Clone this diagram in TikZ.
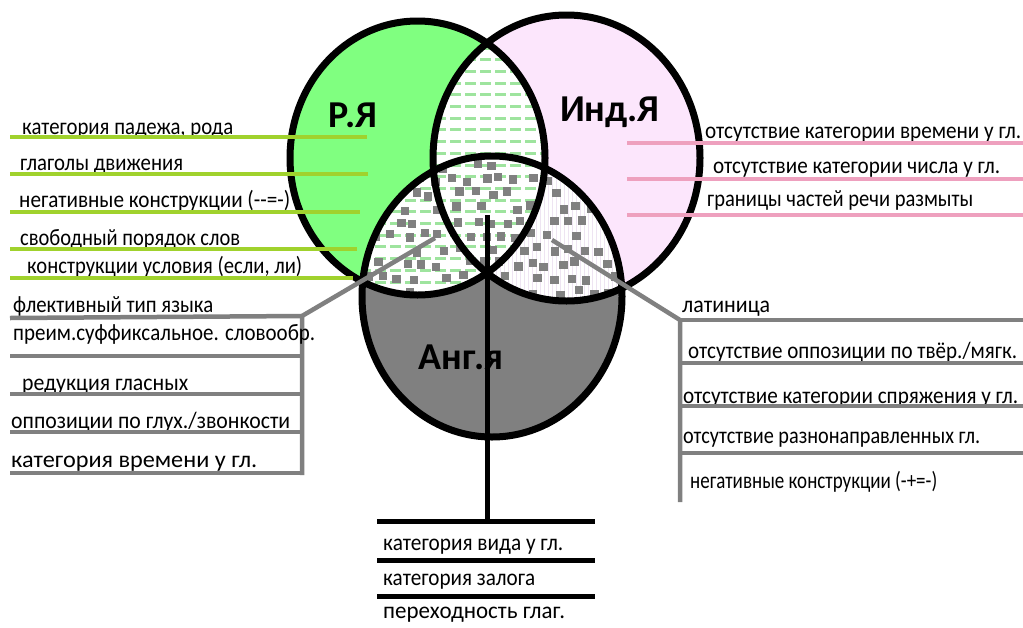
\documentclass[tikz,border=0pt]{standalone}
\usepackage{fontspec}
\usepackage{graphicx}
\setmainfont{Carlito}
\definecolor{rgreen}{RGB}{128,255,128}
\definecolor{ipink}{RGB}{252,230,252}
\definecolor{agrey}{RGB}{128,128,128}
\definecolor{dashgreen}{RGB}{158,228,158}
\definecolor{stripe}{RGB}{238,228,242}
\definecolor{lgreen}{RGB}{160,210,45}
\definecolor{lpink}{RGB}{238,160,190}
\definecolor{cgrey}{RGB}{128,128,128}
\newcommand\fitw[2]{\resizebox{#1pt}{\height}{#2}}
\def\ellA{(417.5,158) ellipse [x radius=127.5pt, y radius=137pt]}
\def\ellB{(566.5,158) ellipse [x radius=133.5pt, y radius=143pt]}
\def\ellC{(492,296.5) ellipse [x radius=130pt, y radius=140.5pt]}
\begin{document}
\begin{tikzpicture}[x=1pt,y=-1pt,
  lbl/.style={anchor=base west, inner sep=0pt, font=\fontsize{23.5}{27}\selectfont},
  title/.style={inner sep=0pt, font=\fontsize{38}{40}\selectfont\bfseries},
  outline/.style={line width=7pt, draw=black},
  gline/.style={line width=4pt, draw=lgreen},
  pline/.style={line width=4pt, draw=lpink},
  greyline/.style={line width=4.5pt, draw=cgrey},
  bline/.style={line width=5pt, draw=black},
  sq/.style={fill=agrey}]
\useasboundingbox (0,0) rectangle (1023,627);
\fill[white] (0,0) rectangle (1023,627);
% base fills
\fill[rgreen] \ellA;
\fill[ipink] \ellB;
\fill[agrey] \ellC;
\begin{scope}\clip \ellA; \fill[white] \ellB \ellC; \end{scope}
\begin{scope}\clip \ellB; \fill[white] \ellC; \end{scope}
% faint vertical stripes in B and C only
\begin{scope}
  \clip \ellB; \clip \ellC;
  \begin{scope}[even odd rule]
    \clip (0,0) rectangle (1023,627) \ellA;
    \foreach \x in {480,484,...,640} \draw[stripe, line width=1pt] (\x,140) -- (\x,310);
  \end{scope}
\end{scope}
% green dashes in A and (B or C)
\begin{scope}
  \clip \ellA; \clip \ellB \ellC;
  \foreach \y in {48,59.7,...,300} \draw[dashgreen, line width=3pt, dash pattern=on 11pt off 4pt] (330,\y) -- (560,\y);
\end{scope}
% grey squares in C and (A or B)
\pgfmathsetseed{12}
\begin{scope}
  \clip \ellC; \clip \ellA \ellB;
  \foreach \i in {0,...,19}{
    \foreach \j in {0,...,10}{
      \pgfmathsetmacro\px{345+\i*15.5+7.5*mod(\j,2)+3*rand}
      \pgfmathsetmacro\py{152+\j*14+3*rand}
      \pgfmathsetmacro\keep{rnd}
      \ifdim\keep pt<0.7pt \fill[sq] (\px-4.2,\py-4.2) rectangle (\px+4.2,\py+4.2);\fi
    }}
\end{scope}
% outlines
\draw[outline] \ellA;
\draw[outline] \ellB;
\draw[outline] \ellC;
% titles
\node[title] (ru) at (353,115) {Р.Я};
\node[title] (ind) at (610,112) {Инд.Я};
\node[title] (en) at (461,357) {Анг.я};
% left green labels
\node[lbl] (l1) at (22,134) {\fitw{211}{категория падежа, рода}};
\node[lbl] (l2) at (20,170) {\fitw{163}{глаголы движения}};
\node[lbl] (l3) at (19,207) {\fitw{271}{негативные конструкции (-{}-=-)}};
\node[lbl] (l4) at (20,245) {\fitw{220}{свободный порядок слов}};
\node[lbl] (l5) at (27,273) {\fitw{275}{конструкции условия (если, ли)}};
\draw[gline] (10,137) -- (367,137);
\draw[gline] (10,174) -- (368,174);
\draw[gline] (10,212) -- (360,212);
\draw[gline] (10,249) -- (357,249);
\draw[gline] (10,278) -- (353,278);
% right pink labels
\node[lbl] (p1) at (705,138) {\fitw{316}{отсутствие категории времени у гл.}};
\node[lbl] (p2) at (713,173) {\fitw{287}{отсутствие категории числа у гл.}};
\node[lbl] (p3) at (707,206) {\fitw{266}{границы частей речи размыты}};
\draw[pline] (627,143) -- (1023,143);
\draw[pline] (627,179) -- (1023,179);
\draw[pline] (627,215) -- (1023,215);
% left grey group
\coordinate (lsrc) at (435,238);
\coordinate (lcorner) at (302,316);
\coordinate (lbot) at (302,475);
\draw[greyline] (lsrc) -- (lcorner) -- (lbot);
\node[lbl] (a1) at (13,312) {\fitw{200}{флективный тип языка}};
\node[lbl] (a2) at (13,340) {\fitw{302}{преим.суффиксальное. словообр.}};
\node[lbl] (a3) at (22,390) {\fitw{166}{редукция гласных}};
\node[lbl] (a4) at (11,428) {\fitw{279}{оппозиции по глух./звонкости}};
\node[lbl] (a5) at (11,467) {\fitw{246}{категория времени у гл.}};
\draw[greyline] (10,318) -- (lcorner);
\draw[greyline] (10,356) -- (302,356);
\draw[greyline] (10,394) -- (302,394);
\draw[greyline] (10,432) -- (302,432);
\draw[greyline] (10,473) -- (302,473);
% right grey group
\coordinate (rsrc) at (552,240);
\coordinate (rcorner) at (680,320);
\coordinate (rbot) at (680,502);
\draw[greyline] (rsrc) -- (rcorner) -- (rbot);
\node[lbl] (b1) at (682,312) {\fitw{88}{латиница}};
\node[lbl] (b2) at (688,358) {\fitw{329}{отсутствие оппозиции по твёр./мягк.}};
\node[lbl] (b3) at (683,403) {\fitw{335}{отсутствие категории спряжения у гл.}};
\node[lbl] (b4) at (683,443) {\fitw{297}{отсутствие разнонаправленных гл.}};
\node[lbl] (b5) at (690,488) {\fitw{247}{негативные конструкции (-+=-)}};
\draw[greyline] (rcorner) -- (1023,320);
\draw[greyline] (680,363) -- (1023,363);
\draw[greyline] (680,406) -- (1023,406);
\draw[greyline] (680,453) -- (1023,453);
% bottom black group
\coordinate (csrc) at (487,215);
\coordinate (ccorner) at (487,521);
\draw[bline] (csrc) -- (ccorner);
\draw[bline] (377,521) -- (595,521);
\draw[bline] (377,560) -- (595,560);
\draw[bline] (377,596) -- (595,596);
\node[lbl] (c1) at (383,550) {\fitw{180}{категория вида у гл.}};
\node[lbl] (c2) at (383,585) {\fitw{152}{категория залога}};
\node[lbl] (c3) at (383,618) {\fitw{182}{переходность глаг.}};
\end{tikzpicture}
\end{document}
